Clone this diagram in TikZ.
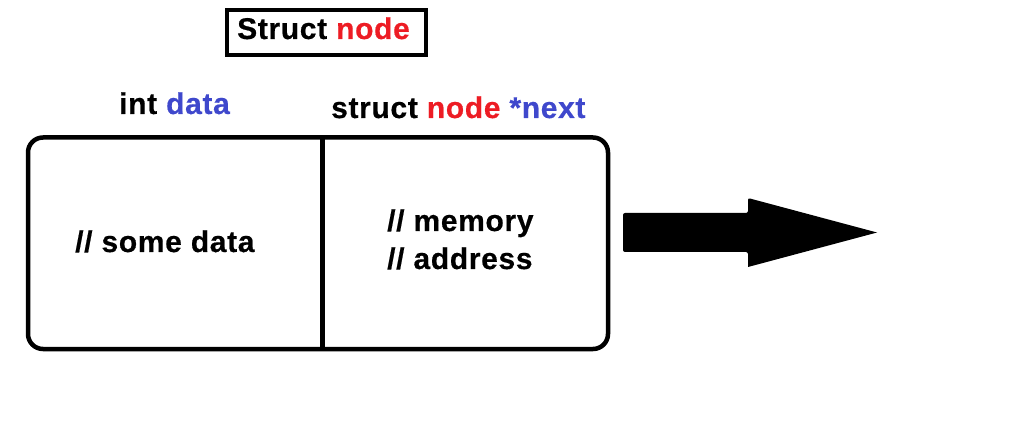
\documentclass[tikz,border=0pt]{standalone}
\usepackage{fontspec}
\setmainfont{Liberation Sans}[BoldFeatures={LetterSpace=2.2,FakeBold=0.5}]
\definecolor{pred}{RGB}{237,28,36}
\definecolor{pblue}{RGB}{63,72,204}
\begin{document}
\begin{tikzpicture}[x=1pt,y=-1pt,
  lbl/.style={anchor=base west,inner sep=0pt,font=\fontsize{30}{38}\selectfont\bfseries},
  frame/.style={draw=black,line width=4.5pt}]
\useasboundingbox (0,0) rectangle (1009,430);
% title
\node[frame,minimum width=199pt,minimum height=45pt,inner sep=0pt] (title) at (326.5,32.5) {};
\node[lbl] (tt) at (237,39) {Struct \textcolor{pred}{node}};
% field labels
\node[lbl] (ld) at (119,114) {int \textcolor{pblue}{data}};
\node[lbl] (ln) at (331,118) {struct \textcolor{pred}{node} \textcolor{pblue}{*next}};
% main box
\node[frame,rounded corners=15pt,minimum width=580pt,minimum height=211.5pt,inner sep=0pt] (box) at (318,243.25) {};
\coordinate (dtop) at (322.5,137.5);
\coordinate (dbot) at (322.5,349);
\draw[line width=4.5pt] (dtop) -- (dbot);
\node[lbl] (sd) at (75,252) {// some data};
\node[lbl] (m1) at (387,231) {// memory};
\node[lbl] (m2) at (387,269) {// address};
% arrow
\coordinate (arr) at (623,232.5);
\fill[black,rounded corners=2pt] (arr) ++(0,-19.5) -- ++(125,0) -- ++(0,-15) [sharp corners] -- (877,232.5) -- (748,267) [rounded corners=2pt] -- (748,252) -- (623,252) -- cycle;
\end{tikzpicture}
\end{document}
